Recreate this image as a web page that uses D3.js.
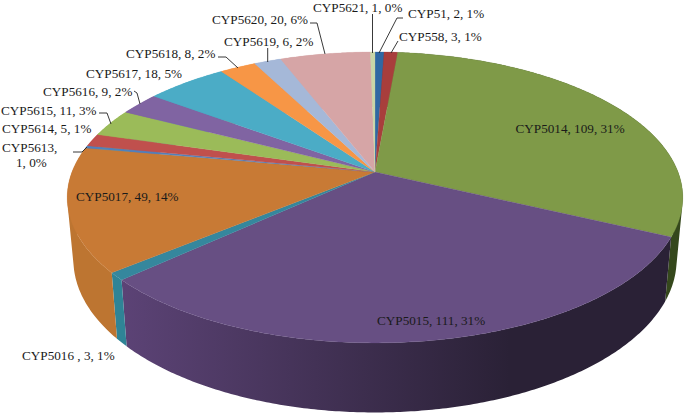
<!DOCTYPE html>
<html><head><meta charset="utf-8">
<script src="https://cdn.jsdelivr.net/npm/d3@7"></script>
<style>html,body{margin:0;padding:0;background:#fff}svg{display:block}text{font-family:"Liberation Serif","Times New Roman",serif;font-size:13.2px;fill:#1a1a1a}</style>
</head><body><svg id="c" width="685" height="415"></svg>
<script>
const categories=["CYP51","CYP558","CYP5014","CYP5015","CYP5016 ","CYP5017","CYP5613","CYP5614","CYP5615","CYP5616","CYP5617","CYP5618","CYP5619","CYP5620","CYP5621"];
const values=[2,3,109,111,3,49,1,5,11,9,18,8,6,20,1];
const percents=[1,1,31,31,1,14,0,1,3,2,5,2,2,6,0];
const colors=["#2f68a3","#a83e3c","#7f9a48","#674f83","#35879d","#c87a35","#4f81bd","#c0504d","#9bbb59","#8064a2","#4bacc6","#f79646","#a5b8d8","#d6a5a6","#c9d6a8"];
const sideStops=[
 ["#1f4a75","#1f4a75"],["#7a2c2a","#7a2c2a"],["#35481c","#35481c"],["#5c4376","#2a2136"],["#2f8496","#2f8496"],["#bd7531","#bd7531"],
 ["#4f81bd","#4f81bd"],["#c0504d","#c0504d"],["#9bbb59","#9bbb59"],["#8064a2","#8064a2"],["#4bacc6","#4bacc6"],["#f79646","#f79646"],["#a5b8d8","#a5b8d8"],["#d6a5a6","#d6a5a6"],["#c9d6a8","#c9d6a8"]];

// label layout: [slice index, x, baseline y, leader points]
const labelLayout=[
 [14,313,12,[[372.5,14],[372.5,53]]],
 [0,408,18,[[403,18],[397,18],[379,53]]],
 [1,399,41,[[398,41],[391,53]]],
 [2,515.5,133,null],
 [3,377,325,null],
 [4,22,360,null],
 [5,76,201,null],
 [7,2,133,null],
 [8,1,115,[[99,113],[107,113],[111,124]]],
 [9,43,96,[[134,91],[137,93],[140,104]]],
 [10,86,78,null],
 [11,126,58,[[218,57],[226,57],[238,68]]],
 [12,224,46,[[267.7,48],[267.7,62]]],
 [13,212,24,[[310,23],[317,23],[325,54]]]
];

(function(){
const svg=d3.select("#c");
const cx=375,cy=172,A=303,B=141,k=0.175;
function topPt(a){const u=Math.sin(a),v=Math.cos(a),w=1+k*v;return [cx+A*u/w,cy-B*v/w];}
function bottomPt(a){const p=topPt(a);return [cx+(p[0]-cx)*0.98,233+(p[1]-cy)*1.05];}
const arcs=d3.pie().sort(null).startAngle(0).endAngle(2*Math.PI)(values);
const line=d3.line();
const samples=(d)=>{const n=Math.max(2,Math.ceil((d.endAngle-d.startAngle)/0.01));return d3.range(n+1).map(i=>d.startAngle+(d.endAngle-d.startAngle)*i/n);};

const defs=svg.append("defs");
arcs.forEach((d,i)=>{
  const g=defs.append("linearGradient").attr("id","s"+i).attr("gradientUnits","userSpaceOnUse")
    .attr("x1",i===3?120:0).attr("x2",i===3?510:685).attr("y1",0).attr("y2",0);
  g.append("stop").attr("offset",0).attr("stop-color",sideStops[i][0]);
  g.append("stop").attr("offset",1).attr("stop-color",sideStops[i][1]);
});
// side wall of a slice: one path of small quads, all wound the same way so that nonzero fill has no holes or seams
function wall(d){
  return d3.pairs(samples(d)).map(([a,b])=>{
    const q=[topPt(a),topPt(b),bottomPt(b),bottomPt(a)];
    if(d3.polygonArea(q)<0) q.reverse();
    return line(q)+"Z";
  }).join("");
}
svg.append("g").selectAll("path").data(arcs).join("path")
  .attr("d",wall).attr("fill-rule","nonzero").attr("fill",(d,i)=>`url(#s${i})`);
svg.append("g").selectAll("path").data(arcs).join("path")
  .attr("d",d=>line([[cx,cy],...samples(d).map(topPt)])+"Z")
  .attr("fill",(d,i)=>colors[i]).attr("stroke",(d,i)=>colors[i]).attr("stroke-width",0.3);

const lab=i=>`${categories[i]}, ${values[i]}, ${percents[i]}%`;
svg.append("g").selectAll("path").data(labelLayout.filter(d=>d[3])).join("path")
  .attr("d",d=>line(d[3])).attr("fill","none").attr("stroke","#222").attr("stroke-width",0.9);
svg.append("g").selectAll("text").data(labelLayout).join("text")
  .attr("x",d=>d[1]).attr("y",d=>d[2]).text(d=>lab(d[0]));
// wrapped label for CYP5613
const g13=svg.append("g");
g13.append("text").attr("x",2).attr("y",152).text(categories[6]+",");
g13.append("text").attr("x",16).attr("y",167).text(`${values[6]}, ${percents[6]}%`);
g13.append("path").attr("d",line([[73,152],[82,152],[87,147]])).attr("fill","none").attr("stroke","#222").attr("stroke-width",0.9);
})();
</script></body></html>
